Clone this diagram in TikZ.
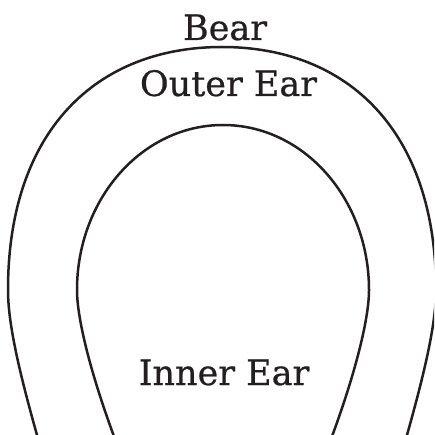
\documentclass[tikz,border=0pt]{standalone}
\usepackage{fontspec}
\setmainfont{DejaVu Serif}
\newfontfamily\lblfont{DejaVu Serif}[FakeBold=0.6]
\definecolor{ink}{HTML}{231F20}
\begin{document}
\begin{tikzpicture}[x=1pt,y=-1pt,
  ear/.style={line width=2.5pt, draw=ink},
  lbl/.style={anchor=base, font=\lblfont\fontsize{35}{40}\selectfont, text=ink, inner sep=0pt}]
\useasboundingbox (0,0) rectangle (434,435);
\begin{scope}
\clip (0,0) rectangle (434,435);
% outer ear
\draw[ear] (47,470) .. controls (23.8,390) and (8,330) .. (8,290)
  .. controls (8,130) and (97,47) .. (222,47)
  .. controls (347,47) and (436,130) .. (436,290)
  .. controls (436,330) and (420.2,390) .. (397,470);
% inner ear
\draw[ear] (125,465) .. controls (97,395) and (77,325) .. (77,290)
  .. controls (77,199) and (142,125) .. (223,125)
  .. controls (304,125) and (369,199) .. (369,290)
  .. controls (369,325) and (349,395) .. (321,465);
\end{scope}
\node[lbl] (bear) at (225,40) {Bear};
\node[lbl] (outer) at (228.5,96) {Outer Ear};
\node[lbl] (inner) at (224,385) {Inner Ear};
\end{tikzpicture}
\end{document}
